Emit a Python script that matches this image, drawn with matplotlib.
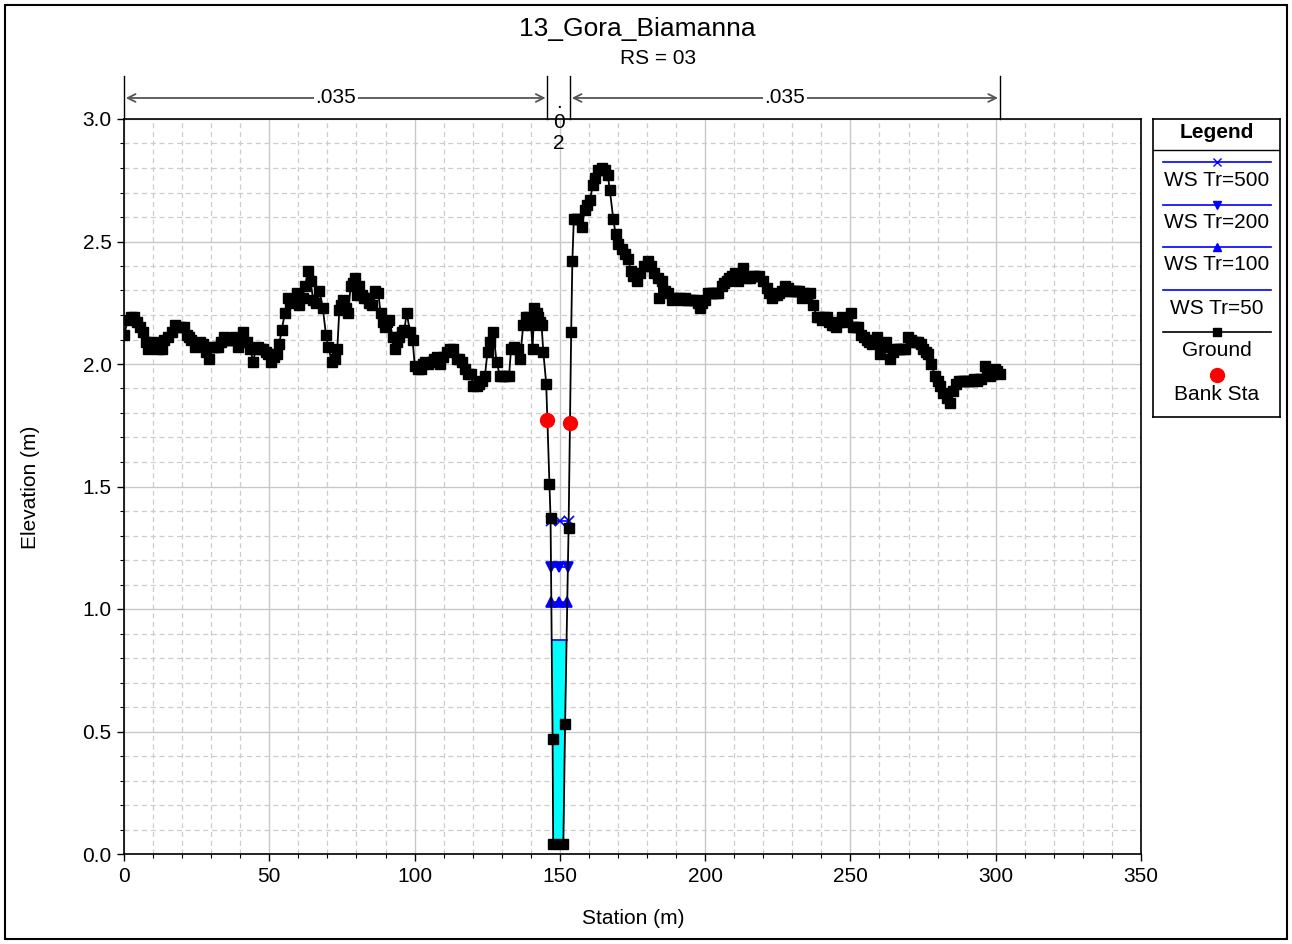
import numpy as np
import matplotlib
matplotlib.use('Agg')
import matplotlib.pyplot as plt
from matplotlib.patches import Rectangle

plt.rcParams['font.family'] = ['Liberation Sans', 'DejaVu Sans']

title = '13_Gora_Biamanna'
subtitle = 'RS = 03'

# ground survey: station (m), elevation (m)
ground_sta = [
    0.0, 1.4, 2.4, 3.4, 4.4, 5.5, 6.6, 7.5, 8.4, 9.3, 10.1, 11.2, 12.1, 13.0, 13.9,
    15.2, 16.4, 17.5, 18.4, 19.3, 20.8, 21.6, 22.4, 23.1, 24.4, 25.3, 26.2, 27.3,
    28.1, 29.4, 30.7, 31.6, 32.5, 33.5, 34.5, 35.5, 36.5, 37.3, 38.2, 39.3, 40.2,
    41.1, 42.2, 43.4, 44.5, 45.3, 46.2, 47.0, 47.9, 48.8, 49.7, 50.6, 51.5, 52.5,
    53.4, 54.3, 55.4, 56.5, 57.1, 57.7, 58.6, 59.4, 60.3, 61.5, 62.3, 63.4, 64.2,
    65.1, 66.2, 67.2, 68.4, 69.5, 70.3, 71.5, 72.6, 73.4, 74.1, 74.8, 75.5, 76.4,
    77.2, 78.0, 78.8, 79.5, 80.3, 81.0, 81.8, 82.6, 83.5, 84.3, 85.2, 86.4, 87.5,
    88.3, 89.1, 89.8, 90.5, 91.3, 92.5, 93.3, 93.8, 94.7, 95.6, 96.5, 97.3, 98.4,
    99.3, 100.1, 101.1, 102.1, 103.0, 103.6, 104.7, 105.9, 106.7, 107.6, 108.7,
    109.9, 111.0, 112.2, 113.3, 114.5, 115.4, 116.2, 117.3, 118.5, 119.3, 120.2,
    121.4, 122.3, 123.1, 124.2, 125.1, 125.9, 127.1, 128.2, 129.4, 130.2, 131.1,
    132.5, 133.2, 134.3, 135.5, 136.3, 137.4, 138.2, 139.2, 140.1, 140.6, 141.2,
    142.0, 142.4, 143.1, 143.7, 144.3, 145.3, 146.4, 146.8, 147.5, 147.7, 151.2,
    151.8, 153.0, 153.9, 154.3, 154.8, 155.6, 156.3, 157.5, 158.6, 159.5, 160.4,
    161.3, 162.0, 163.2, 164.4, 165.5, 166.5, 167.2, 168.4, 169.2, 170.1, 171.3,
    172.4, 173.5, 174.4, 175.3, 176.4, 177.6, 178.9, 180.4, 181.2, 182.4, 183.9,
    184.2, 185.0, 186.2, 187.3, 188.5, 189.2, 190.0, 191.3, 192.2, 193.0, 193.9,
    194.8, 195.7, 196.5, 197.4, 198.2, 199.0, 199.9, 201.1, 202.0, 202.8, 203.6,
    204.5, 205.7, 206.5, 207.4, 208.2, 209.1, 210.3, 211.4, 212.3, 213.1, 214.3,
    215.4, 216.3, 217.1, 218.6, 220.0, 221.2, 222.1, 222.9, 223.8, 224.6, 225.4,
    226.3, 227.5, 228.4, 229.2, 230.0, 230.9, 231.6, 232.4, 233.2, 234.0, 234.9,
    236.1, 237.2, 238.4, 239.3, 240.1, 241.0, 241.8, 242.6, 243.5, 244.3, 245.2,
    246.1, 247.0, 248.7, 250.1, 251.0, 251.9, 252.7, 253.8, 254.7, 255.6, 256.5,
    257.3, 258.2, 259.0, 260.1, 261.2, 262.2, 263.6, 264.5, 265.3, 266.2, 267.0,
    268.0, 268.8, 269.9, 270.8, 271.6, 272.4, 273.3, 274.2, 275.1, 276.0, 276.8,
    277.9, 279.1, 280.0, 280.8, 281.9, 283.1, 284.2, 285.4, 286.5, 287.4, 288.3,
    289.2, 290.0, 290.8, 291.7, 292.6, 293.4, 294.3, 295.1, 296.3, 297.1, 298.0,
    298.8, 299.7, 300.5, 301.4]
ground_elev = [
    2.12, 2.18, 2.19, 2.19, 2.17, 2.15, 2.13, 2.09, 2.06, 2.08, 2.09, 2.07, 2.06, 2.06, 2.10,
    2.11, 2.13, 2.16, 2.15, 2.15, 2.15, 2.12, 2.11, 2.10, 2.07, 2.08, 2.09, 2.08,
    2.05, 2.02, 2.07, 2.07, 2.07, 2.09, 2.11, 2.10, 2.10, 2.10, 2.11, 2.07, 2.09,
    2.13, 2.09, 2.06, 2.01, 2.06, 2.07, 2.06, 2.06, 2.05, 2.04, 2.01, 2.03, 2.04,
    2.08, 2.14, 2.21, 2.27, 2.25, 2.26, 2.26, 2.29, 2.24, 2.27, 2.32, 2.38, 2.34,
    2.26, 2.25, 2.30, 2.23, 2.12, 2.07, 2.01, 2.02, 2.06, 2.22, 2.24, 2.26, 2.23,
    2.21, 2.32, 2.33, 2.35, 2.28, 2.32, 2.28, 2.27, 2.27, 2.25, 2.24, 2.30, 2.29,
    2.21, 2.17, 2.15, 2.17, 2.18, 2.11, 2.06, 2.09, 2.11, 2.13, 2.14, 2.21, 2.13,
    2.10, 1.99, 1.98, 1.98, 2.00, 2.01, 2.00, 2.01, 2.02, 2.03, 2.00,
    2.03, 2.05, 2.06, 2.06, 2.02, 2.02, 2.01, 1.98, 1.96, 1.96, 1.91,
    1.91, 1.92, 1.93, 1.95, 2.05, 2.09, 2.13, 2.01, 1.95, 1.95, 1.95,
    1.95, 2.06, 2.07, 2.06, 2.02, 2.16, 2.19, 2.19, 2.16, 2.06, 2.23,
    2.21, 2.19, 2.17, 2.16, 2.05, 1.92, 1.51, 1.37, 0.47, 0.04, 0.04,
    0.53, 1.33, 2.13, 2.42, 2.59, 2.59, 2.59, 2.56, 2.63, 2.65, 2.67,
    2.73, 2.76, 2.79, 2.80, 2.79, 2.77, 2.71, 2.59, 2.53, 2.49, 2.47,
    2.45, 2.43, 2.38, 2.36, 2.34, 2.37, 2.40, 2.42, 2.40, 2.37, 2.35,
    2.27, 2.34, 2.30, 2.29, 2.26, 2.27, 2.27, 2.27, 2.26, 2.27, 2.26,
    2.26, 2.26, 2.26, 2.25, 2.23, 2.25, 2.26, 2.29, 2.29, 2.29, 2.29,
    2.29, 2.32, 2.33, 2.34, 2.35, 2.36, 2.37, 2.34, 2.36, 2.39, 2.35,
    2.35, 2.36, 2.36, 2.36, 2.34, 2.31, 2.29, 2.27, 2.28, 2.28, 2.29,
    2.30, 2.32, 2.31, 2.30, 2.30, 2.30, 2.30, 2.30, 2.27, 2.29, 2.28,
    2.29, 2.24, 2.19, 2.19, 2.18, 2.19, 2.19, 2.17, 2.16, 2.16, 2.15,
    2.17, 2.19, 2.17, 2.21, 2.15, 2.15, 2.15, 2.12, 2.11, 2.10, 2.09,
    2.08, 2.10, 2.11, 2.04, 2.07, 2.09, 2.02, 2.05, 2.06, 2.06, 2.06,
    2.06, 2.06, 2.11, 2.10, 2.09, 2.09, 2.09, 2.08, 2.06, 2.05, 2.04,
    2.00, 1.95, 1.93, 1.91, 1.88, 1.86, 1.84, 1.89, 1.92, 1.93, 1.93,
    1.93, 1.93, 1.93, 1.93, 1.94, 1.93, 1.94, 1.94, 1.99, 1.97, 1.95,
    1.96, 1.98, 1.97, 1.96]

bank_sta = [145.7, 153.5]
bank_elev = [1.77, 1.76]

# water surface profiles
ws_names = ['WS Tr=500', 'WS Tr=200', 'WS Tr=100', 'WS Tr=50']
ws_elev = [1.36, 1.17, 1.03, 0.875]
ws_markers = ['x', 'v', '^', None]

# manning's n breaks
n_sta = [0.0, 145.7, 153.5, 301.4]
n_val = ['.035', '.02', '.035']

sta = np.array(ground_sta)
elev = np.array(ground_elev)

FS = 15

W, H = 1292, 944
fig = plt.figure(figsize=(W / 100, H / 100), dpi=100)
ax = fig.add_axes([124 / W, 1 - 854 / H, (1141 - 124) / W, (854 - 119) / H])

ax.set_xlim(0, 350)
ax.set_ylim(0, 3.0)
ax.set_xticks(np.arange(0, 351, 50))
ax.set_xticks(np.arange(0, 351, 10), minor=True)
ax.set_yticks(np.arange(0, 3.01, 0.5))
ax.set_yticks(np.arange(0, 3.01, 0.1), minor=True)
ax.yaxis.set_major_formatter(matplotlib.ticker.FormatStrFormatter('%.1f'))
ax.grid(which='major', color='#c8c8c8', ls='-', lw=1.0)
ax.grid(which='minor', color='#cccccc', ls=(0, (4, 3)), lw=0.9)
ax.set_axisbelow(True)
ax.tick_params(which='major', direction='out', length=5, width=1, labelsize=FS, pad=4)
ax.tick_params(which='minor', direction='out', length=3, width=0.8)
for s in ax.spines.values():
    s.set_color('black')
    s.set_linewidth(1.2)

# channel part for water surfaces
ch = (sta > 145) & (sta < 154.5)
ch_sta, ch_elev = sta[ch], elev[ch]
imin = np.argmin(ch_elev)
lsta, lelev = ch_sta[:imin + 1], ch_elev[:imin + 1]
rsta, relev = ch_sta[imin + 1:], ch_elev[imin + 1:]

ax.fill_between(ch_sta, ch_elev, ws_elev[3], where=ch_elev <= ws_elev[3],
                interpolate=True, color='#00ffff', lw=0, zorder=2)
for name, lvl, mk in zip(ws_names, ws_elev, ws_markers):
    xl = np.interp(lvl, lelev[::-1], lsta[::-1])
    xr = np.interp(lvl, relev, rsta)
    ax.plot([xl, xr], [lvl, lvl], color='#0000ff', lw=1.2, zorder=3)
    if mk:
        ax.plot([xl, (xl + xr) / 2, xr], [lvl] * 3, ls='none', marker=mk,
                color='#0000ff', ms=7, mew=1.2, zorder=4)

ax.plot(sta, elev, color='black', lw=1.3, marker='s', ms=6.8, zorder=5)
ax.plot(bank_sta, bank_elev, ls='none', marker='o', color='#ff0000', ms=10, zorder=6)

# manning's n bar above the plot
tr = ax.get_xaxis_transform()
for x in n_sta:
    ax.plot([x, x], [1.0, 1.0585], transform=tr, color='black', lw=1, clip_on=False)
for i, lab in enumerate(n_val):
    x0, x1 = n_sta[i] + 0.6, n_sta[i + 1] - 0.6
    xm = (n_sta[i] + n_sta[i + 1]) / 2
    if x1 - x0 > 20:
        ax.annotate('', xy=(x1, 1.0286), xytext=(x0, 1.0286), xycoords=tr, textcoords=tr,
                    arrowprops=dict(arrowstyle='<->', color='#555555', lw=1.3,
                                    shrinkA=0, shrinkB=0, mutation_scale=14),
                    annotation_clip=False)
        ax.text(xm, 1.0286, lab, transform=tr, ha='center', va='center', fontsize=FS,
                bbox=dict(facecolor='white', edgecolor='none', pad=1))
    else:
        ax.text(xm, 0.995, '\n'.join(lab), transform=tr, ha='center', va='center',
                fontsize=FS, linespacing=1.1)

fig.text(637.5 / W, 1 - 29 / H, title, ha='center', va='center', fontsize=19)
fig.text(658 / W, 1 - 59 / H, subtitle, ha='center', va='center', fontsize=FS)
fig.text(633 / W, 1 - 918 / H, 'Station (m)', ha='center', va='center', fontsize=FS)
fig.text(30 / W, 1 - 487 / H, 'Elevation (m)', ha='center', va='center', rotation=90,
         fontsize=FS)

# legend box
lg = fig.add_axes([1153 / W, 1 - 417 / H, 127 / W, 298 / H])
lg.set_xlim(1153, 1280)
lg.set_ylim(417, 119)
lg.set_xticks([])
lg.set_yticks([])
for s in lg.spines.values():
    s.set_color('black')
    s.set_linewidth(1.2)
lg.text(1216.5, 133, 'Legend', ha='center', va='center', fontsize=FS, fontweight='bold')
lg.plot([1153, 1280], [149.5, 149.5], color='black', lw=1)
entries = [
    (ws_names[0], 162, 181, dict(color='#0000ff', marker='x', ms=6)),
    (ws_names[1], 205, 223, dict(color='#0000ff', marker='v', ms=6)),
    (ws_names[2], 247, 265, dict(color='#0000ff', marker='^', ms=6)),
    (ws_names[3], 290, 309, dict(color='#0000ff', marker=None)),
    ('Ground', 332, 350, dict(color='black', marker='s', ms=6)),
]
for lab, yl, yt, st in entries:
    lg.plot([1163, 1271], [yl, yl], lw=1.2, color=st['color'])
    if st['marker']:
        lg.plot([1216.5], [yl], ls='none', marker=st['marker'], color=st['color'], ms=st['ms'])
    lg.text(1216.5, yt, lab, ha='center', va='center', fontsize=FS)
lg.plot([1216.5], [375], ls='none', marker='o', color='#ff0000', ms=10)
lg.text(1216.5, 394, 'Bank Sta', ha='center', va='center', fontsize=FS)

fig.patches.append(Rectangle((5 / W, 5 / H), (W - 10) / W, (H - 10) / H, transform=fig.transFigure,
                             fill=False, edgecolor='black', lw=1.5))

fig.savefig('out.png', dpi=100)
